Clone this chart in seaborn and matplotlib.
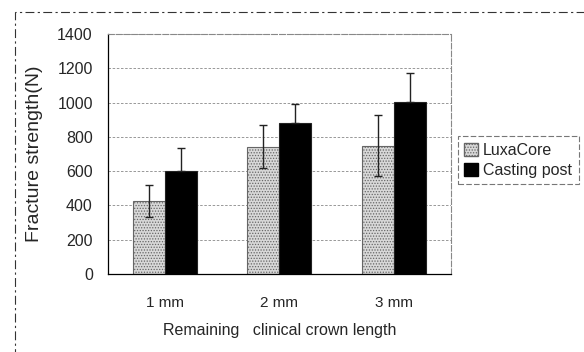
import numpy as np
import pandas as pd
import matplotlib
matplotlib.use("Agg")
import matplotlib.pyplot as plt
from matplotlib.patches import Rectangle, Patch
import seaborn as sns

# values
lengths = ["1 mm", "2 mm", "3 mm"]
materials = ["LuxaCore", "Casting post"]
luxacore_mean = [428, 743, 749]
luxacore_sd = [93, 125, 177]
casting_mean = [601, 881, 1005]
casting_sd = [136, 111, 166]

df = pd.DataFrame({
    "length": lengths * 2,
    "material": [materials[0]] * 3 + [materials[1]] * 3,
    "strength": luxacore_mean + casting_mean,
    "sd": luxacore_sd + casting_sd,
})

sns.set_style("white")
plt.rcParams["font.family"] = ["Liberation Sans", "DejaVu Sans"]
plt.rcParams["hatch.linewidth"] = 0.6

fig = plt.figure(figsize=(5.84, 3.52), dpi=100)
ax = fig.add_axes([0.185, 0.2216, 0.587, 0.6818])

palette = {"LuxaCore": "#d8d8d8", "Casting post": "black"}
sns.barplot(data=df, x="length", y="strength", hue="material", palette=palette,
            width=0.56, errorbar=None, edgecolor="#222222", linewidth=0.8,
            saturation=1, legend=False, ax=ax)

# stipple the LuxaCore bars, add error bars at the bar centres
for i, p in enumerate(ax.patches[:6]):
    row = df.iloc[i]
    xc = p.get_x() + p.get_width() / 2
    if row["material"] == "LuxaCore":
        p.set_hatch("......")
        p.set_edgecolor("#666666")
        err = row["sd"]
    else:
        err = [[0], [row["sd"]]]
    ax.errorbar(xc, row["strength"], yerr=err, fmt="none", ecolor="#222222",
                elinewidth=1.0, capsize=3, capthick=1.0, zorder=5)

ax.set_xlim(-0.5, 2.5)
ax.set_ylim(0, 1400)
ax.set_yticks(range(0, 1401, 200))
ax.yaxis.grid(True, color="#888888", linestyle=(0, (3, 2)), linewidth=0.6)
ax.set_axisbelow(True)
for s in ["top", "right"]:
    ax.spines[s].set_color("#888888")
    ax.spines[s].set_linestyle((0, (5, 2)))
    ax.spines[s].set_linewidth(0.8)
for s in ["left", "bottom"]:
    ax.spines[s].set_color("black")
    ax.spines[s].set_linewidth(0.9)

ax.tick_params(axis="y", labelsize=11.5, length=0, pad=11)
ax.tick_params(axis="x", labelsize=11, length=0, pad=16)
ax.set_ylabel("Fracture strength(N)", fontsize=14, labelpad=10)
ax.set_xlabel("Remaining   clinical crown length", fontsize=11.5, labelpad=9)

handles = [Patch(facecolor="#d8d8d8", edgecolor="#666666", hatch="......", label="LuxaCore"),
           Patch(facecolor="black", edgecolor="black", label="Casting post")]
leg = fig.legend(handles=handles, loc="upper left", bbox_to_anchor=(0.770, 0.635),
                 fontsize=11.5, frameon=True, fancybox=False, handlelength=0.9,
                 handleheight=0.9, handletextpad=0.3, borderpad=0.4, labelspacing=0.3)
leg.get_frame().set_edgecolor("#555555")
leg.get_frame().set_linestyle((0, (5, 2)))
leg.get_frame().set_linewidth(0.8)

# dashed outer frame of the scanned figure
fig.patches.append(Rectangle((15 / 584, -0.05), 1.0, 1 - 12 / 352 + 0.05,
                             transform=fig.transFigure, fill=False,
                             edgecolor="#333333", linestyle=(0, (8, 3, 2, 3)),
                             linewidth=0.8, clip_on=False))

fig.savefig("out.png", dpi=100)
